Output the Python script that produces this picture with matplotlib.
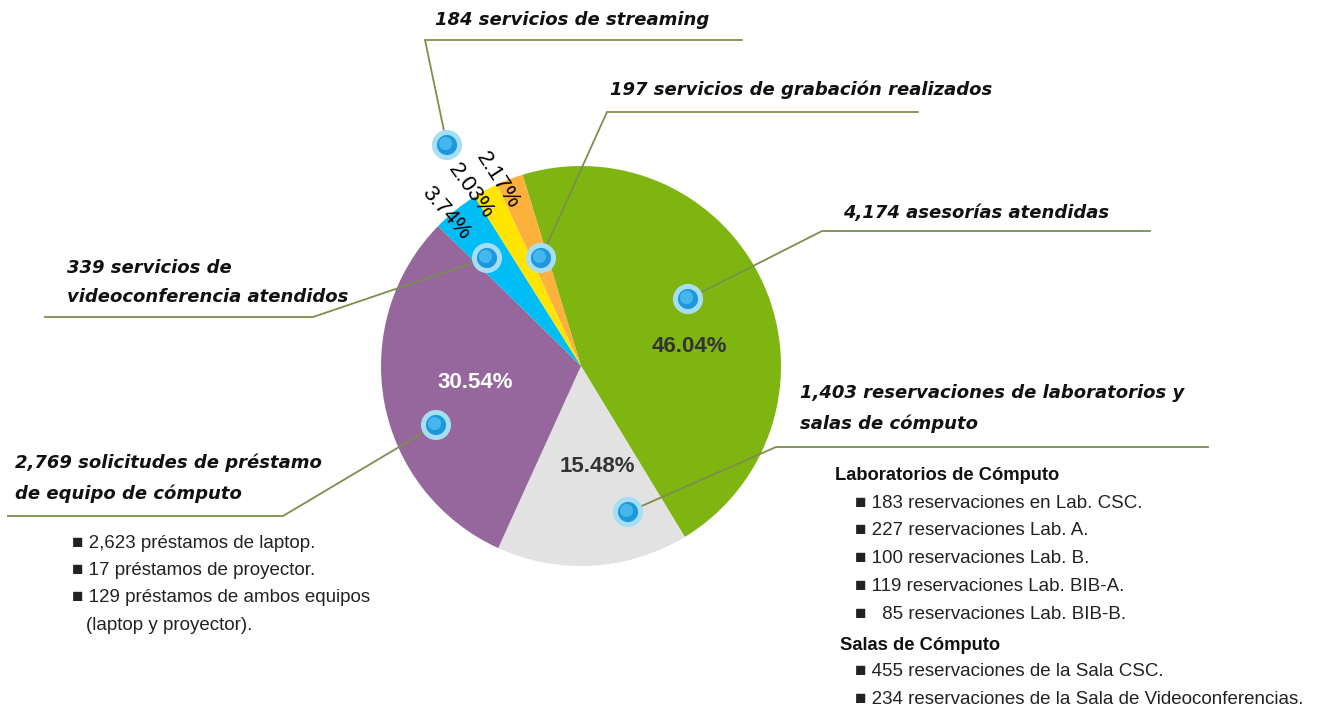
import matplotlib
matplotlib.use("Agg")
import matplotlib.pyplot as plt

# ---- data ----
categories = [
    "asesorías atendidas",
    "reservaciones de laboratorios y salas de cómputo",
    "solicitudes de préstamo de equipo de cómputo",
    "servicios de videoconferencia atendidos",
    "servicios de streaming",
    "servicios de grabación realizados",
]
values = [4174, 1403, 2769, 339, 184, 197]
colors = ["#7fb511", "#e2e2e2", "#95679d", "#00bdf6", "#ffe500", "#fbb13c"]

callout_titles = [
    "4,174 asesorías atendidas",
    "1,403 reservaciones de laboratorios y\nsalas de cómputo",
    "2,769 solicitudes de préstamo\nde equipo de cómputo",
    "339 servicios de\nvideoconferencia atendidos",
    "184 servicios de streaming",
    "197 servicios de grabación realizados",
]

prestamo_items = [
    "2,623 préstamos de laptop.",
    "17 préstamos de proyector.",
    "129 préstamos de ambos equipos",
]
lab_items = [
    "183 reservaciones en Lab. CSC.",
    "227 reservaciones Lab. A.",
    "100 reservaciones Lab. B.",
    "119 reservaciones Lab. BIB-A.",
    "  85 reservaciones Lab. BIB-B.",
]
sala_items = [
    "455 reservaciones de la Sala CSC.",
    "234 reservaciones de la Sala de Videoconferencias.",
]

W, H = 1325, 713
fig = plt.figure(figsize=(W / 100, H / 100), dpi=100)
ax = fig.add_axes([0, 0, 1, 1])

def Y(y):
    return H - y

CX, CY, R = 581, Y(366), 200
wedges, texts, autotexts = ax.pie(
    values, colors=colors, startangle=107, counterclock=False,
    center=(CX, CY), radius=R, autopct="%.2f%%", pctdistance=0.55,
    wedgeprops=dict(linewidth=0),
)
ax.set_xlim(0, W)
ax.set_ylim(0, H)
ax.set_aspect("equal")
ax.axis("off")

# percentage label layout
pct_pos = [(689, 347), (597, 466), (475, 382), (446, 213), (471, 191), (498, 180)]
pct_rot = [0, 0, 0, -49, -54, -57]
pct_col = ["#333333", "#333333", "white", "black", "black", "black"]
pct_size = [16, 16, 16, 16, 16, 16]
for t, (px, py), rot, c, s in zip(autotexts, pct_pos, pct_rot, pct_col, pct_size):
    t.set_position((px, Y(py)))
    t.set_rotation(rot)
    t.set_rotation_mode("anchor")
    t.set_ha("center")
    t.set_va("center")
    t.set_color(c)
    t.set_fontsize(s)
    t.set_fontweight("bold" if c != "black" else "normal")
    t.set_family("Liberation Sans")

# callouts: marker, leader line (marker -> elbow -> end), text
line_col = "#7b8f4c"
markers = [(688, 299), (628, 512), (436, 425), (487, 258), (447, 145), (541, 258)]
elbows = [(822, 231), (776, 447), (283, 516), (313, 317), (425, 40), (607, 112)]
ends = [(1150, 231), (1208, 447), (8, 516), (45, 317), (742, 40), (918, 112)]
text_xy = [(843, 213), (800, 408.5), (15, 478), (67, 282.5), (435, 20), (610, 90)]

title_font = dict(family="DejaVu Sans", fontweight="bold", style="italic",
                  fontsize=13, color="#111111")
for (mx, my), (ex, ey), (fx, fy), (tx, ty), title in zip(
        markers, elbows, ends, text_xy, callout_titles):
    ax.plot([mx, ex, fx], [Y(my), Y(ey), Y(fy)], color=line_col, lw=1.3,
            solid_joinstyle="miter", zorder=3)
    ax.scatter([mx], [Y(my)], s=470, color="#a6def4", edgecolors="none", zorder=4)
    ax.scatter([mx], [Y(my)], s=210, color="#1e98db", edgecolors="none", zorder=5)
    ax.scatter([mx - 1.5], [Y(my) + 1.5], s=90, color="#45b6ee", edgecolors="none", zorder=6)
    ax.text(tx, Y(ty), title, ha="left", va="center",
            linespacing=1.85, zorder=7, **title_font)

body_font = dict(family="Liberation Sans", fontsize=13.5, color="#222222")
bold_font = dict(family="Liberation Sans", fontsize=13.2, color="#111111",
                 fontweight="bold")

for i, item in enumerate(prestamo_items):
    ax.text(72, Y(543 + 27.5 * i), "■ " + item, ha="left", va="center", **body_font)
ax.text(86, Y(626), "(laptop y proyector).", ha="left", va="center", **body_font)

ax.text(835, Y(476), "Laboratorios de Cómputo", ha="left", va="center", **bold_font)
for i, item in enumerate(lab_items):
    ax.text(855, Y(503 + 27.8 * i), "■ " + item, ha="left", va="center", **body_font)
ax.text(840, Y(645), "Salas de Cómputo", ha="left", va="center", **bold_font)
for i, item in enumerate(sala_items):
    ax.text(855, Y(672 + 28 * i), "■ " + item, ha="left", va="center", **body_font)

fig.savefig("out.png", dpi=100)
